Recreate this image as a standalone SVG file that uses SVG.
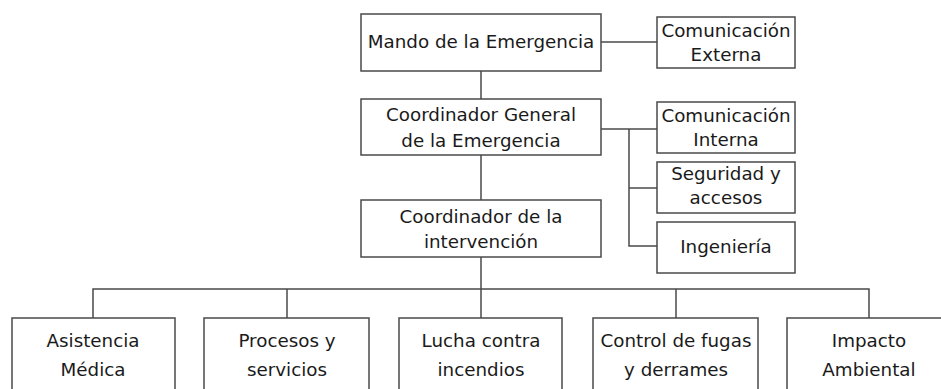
<svg xmlns="http://www.w3.org/2000/svg" width="941" height="389" viewBox="0 0 941 389">
<style>
.box{fill:#fff;stroke:#4a4a4a;stroke-width:1.5}
.ln{fill:none;stroke:#4a4a4a;stroke-width:1.5}
text{font-family:"DejaVu Sans",Verdana,sans-serif;font-size:18.3px;fill:#1a1a1a;text-anchor:middle}
</style>
<rect width="941" height="389" fill="#fff"/>
<g id="connectors">
<path class="ln" d="M601 42H657"/>
<path class="ln" d="M481 71V99"/>
<path class="ln" d="M601 129H657"/>
<path class="ln" d="M629 129V246H657"/>
<path class="ln" d="M629 188H657"/>
<path class="ln" d="M481 155V200"/>
<path class="ln" d="M481 257V318"/>
<path class="ln" d="M93 318V289H869V318"/>
<path class="ln" d="M287 289V318"/>
<path class="ln" d="M676 289V318"/>
</g>
<g id="mando"><rect class="box" x="361" y="14" width="240" height="57"/><text x="481" y="48">Mando de la Emergencia</text></g>
<g id="com-externa"><rect class="box" x="657" y="17" width="138" height="51"/><text x="726" y="37">Comunicación</text><text x="726" y="61">Externa</text></g>
<g id="coord-general"><rect class="box" x="361" y="99" width="240" height="56"/><text x="481" y="121">Coordinador General</text><text x="481" y="147">de la Emergencia</text></g>
<g id="com-interna"><rect class="box" x="657" y="102" width="138" height="51"/><text x="726" y="122">Comunicación</text><text x="726" y="146">Interna</text></g>
<g id="seguridad"><rect class="box" x="657" y="162" width="138" height="51"/><text x="726" y="180">Seguridad y</text><text x="726" y="204">accesos</text></g>
<g id="ingenieria"><rect class="box" x="657" y="222" width="138" height="51"/><text x="726" y="253">Ingeniería</text></g>
<g id="coord-intervencion"><rect class="box" x="361" y="200" width="240" height="57"/><text x="481" y="223">Coordinador de la</text><text x="481" y="248">intervención</text></g>
<g id="asistencia"><rect class="box" x="12" y="318" width="163" height="90"/><text x="93" y="347">Asistencia</text><text x="93" y="376">Médica</text></g>
<g id="procesos"><rect class="box" x="204" y="318" width="165" height="90"/><text x="287" y="347">Procesos y</text><text x="287" y="376">servicios</text></g>
<g id="lucha"><rect class="box" x="399" y="318" width="163" height="90"/><text x="481" y="347">Lucha contra</text><text x="481" y="376">incendios</text></g>
<g id="control"><rect class="box" x="593" y="318" width="165" height="90"/><text x="676" y="347">Control de fugas</text><text x="676" y="376">y derrames</text></g>
<g id="impacto"><rect class="box" x="787" y="318" width="164" height="90"/><text x="869" y="347">Impacto</text><text x="869" y="376">Ambiental</text></g>
</svg>
